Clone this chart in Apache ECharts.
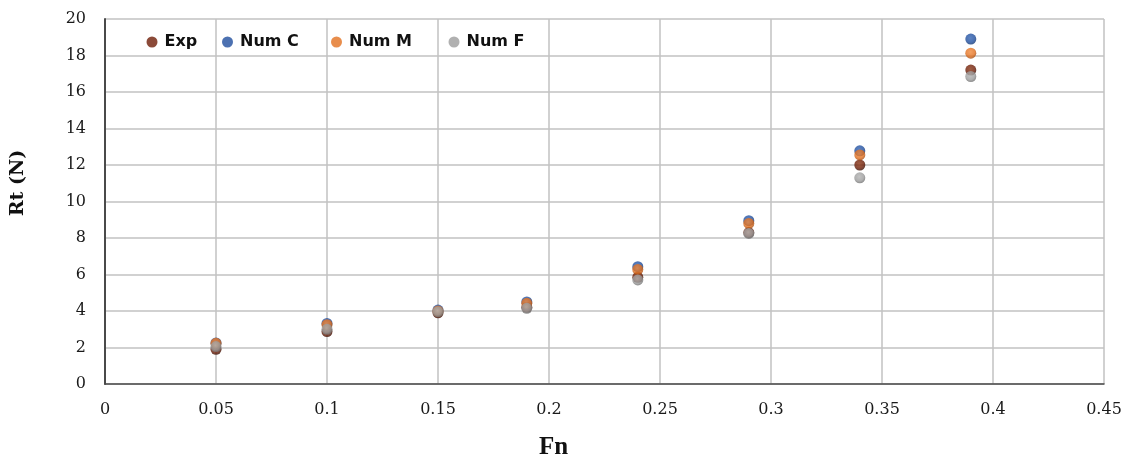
<!DOCTYPE html>
<html>
<head>
<meta charset="utf-8">
<title>Rt vs Fn</title>
<script src="https://cdn.jsdelivr.net/npm/echarts@6/dist/echarts.min.js"></script>
<style>
  html, body { margin: 0; padding: 0; background: #ffffff; overflow: hidden; }
  #chart { width: 1132px; height: 459px; }
</style>
</head>
<body>
<div id="chart"></div>
<script>
// Froude number of each test condition
const fn = [0.05, 0.1, 0.15, 0.19, 0.24, 0.29, 0.34, 0.39];

// Total resistance Rt (N): experiment and three numerical models
const rtExp  = [1.90, 2.87, 3.90, 4.20, 5.85, 8.30, 12.00, 17.20];
const rtNumC = [2.25, 3.32, 4.05, 4.50, 6.43, 8.95, 12.78, 18.90];
const rtNumM = [2.23, 3.25, 4.00, 4.42, 6.28, 8.80, 12.55, 18.13];
const rtNumF = [2.05, 3.00, 3.96, 4.15, 5.70, 8.25, 11.30, 16.85];

const seriesNames = ['Exp', 'Num C', 'Num M', 'Num F'];
const seriesValues = [rtExp, rtNumC, rtNumM, rtNumF];
const seriesColors = ['#6e1d06', '#1f4e9e', '#e2701f', '#9c9c9c'];
const seriesLight  = ['#8a3414', '#3465b4', '#f08a3e', '#b4b4b4'];
const seriesDark   = ['#3a0d02', '#123572', '#a84e12', '#727272'];

// slightly shaded round markers
function ball(i) {
  return {
    type: 'radial', x: 0.45, y: 0.4, r: 0.6,
    colorStops: [
      { offset: 0, color: seriesLight[i] },
      { offset: 0.65, color: seriesColors[i] },
      { offset: 1, color: seriesDark[i] }
    ]
  };
}

const series = seriesNames.map((name, i) => ({
  name: name,
  type: 'scatter',
  symbol: 'circle',
  symbolSize: 11,
  itemStyle: { color: ball(i) },
  data: fn.map((x, k) => [x, seriesValues[i][k]])
}));

// one legend box per entry so each item sits at its own left offset
const legendLefts = [141.5, 217, 326, 443.5];
const legends = seriesNames.map((name, i) => ({
  data: [{ name: name, itemStyle: { color: seriesColors[i] } }],
  left: legendLefts[i],
  top: 29,
  orient: 'horizontal',
  icon: 'circle',
  itemWidth: 11,
  itemHeight: 11,
  textStyle: {
    fontFamily: 'DejaVu Sans, Arial, sans-serif',
    fontWeight: 'bold',
    fontSize: 16,
    color: '#111111',
    padding: [0, 0, 0, 2]
  },
  selectedMode: false
}));

const tickFont = {
  fontFamily: 'DejaVu Serif, Liberation Serif, serif',
  fontSize: 16,
  color: '#1a1a1a'
};

const chart = echarts.init(document.getElementById('chart'), null, { renderer: 'canvas' });
chart.setOption({
  animation: false,
  backgroundColor: '#ffffff',
  color: seriesColors,
  legend: legends,
  grid: {
    left: 105, right: 28, top: 19, bottom: 75,
    containLabel: false,
    outerBoundsMode: 'none'
  },
  xAxis: {
    type: 'value',
    min: 0, max: 0.45, interval: 0.05,
    name: 'Fn',
    nameLocation: 'middle',
    nameGap: 51,
    nameTextStyle: {
      fontFamily: 'Liberation Serif, Times New Roman, serif',
      fontWeight: 'bold', fontSize: 25, color: '#111111',
      padding: [0, 102, 0, 0]
    },
    axisLine: { show: true, onZero: false, lineStyle: { color: '#4a4a4a', width: 1.5 } },
    axisTick: { show: false },
    axisLabel: Object.assign({
      margin: 18,
      formatter: v => String(+v.toFixed(2))
    }, tickFont),
    splitLine: { show: true, lineStyle: { color: '#c2c2c2', width: 1.5 } }
  },
  yAxis: {
    type: 'value',
    min: 0, max: 20, interval: 2,
    name: 'Rt (N)',
    nameLocation: 'middle',
    nameGap: 77,
    nameRotate: 90,
    nameTextStyle: {
      fontFamily: 'DejaVu Serif, Liberation Serif, serif',
      fontWeight: 'bold', fontSize: 19, color: '#111111',
      padding: [0, 0, 0, 37]
    },
    axisLine: { show: true, lineStyle: { color: '#4a4a4a', width: 2 } },
    axisTick: { show: false },
    axisLabel: Object.assign({ margin: 19 }, tickFont),
    splitLine: { show: true, lineStyle: { color: '#c2c2c2', width: 1.5 } }
  },
  series: series
});
</script>
</body>
</html>
